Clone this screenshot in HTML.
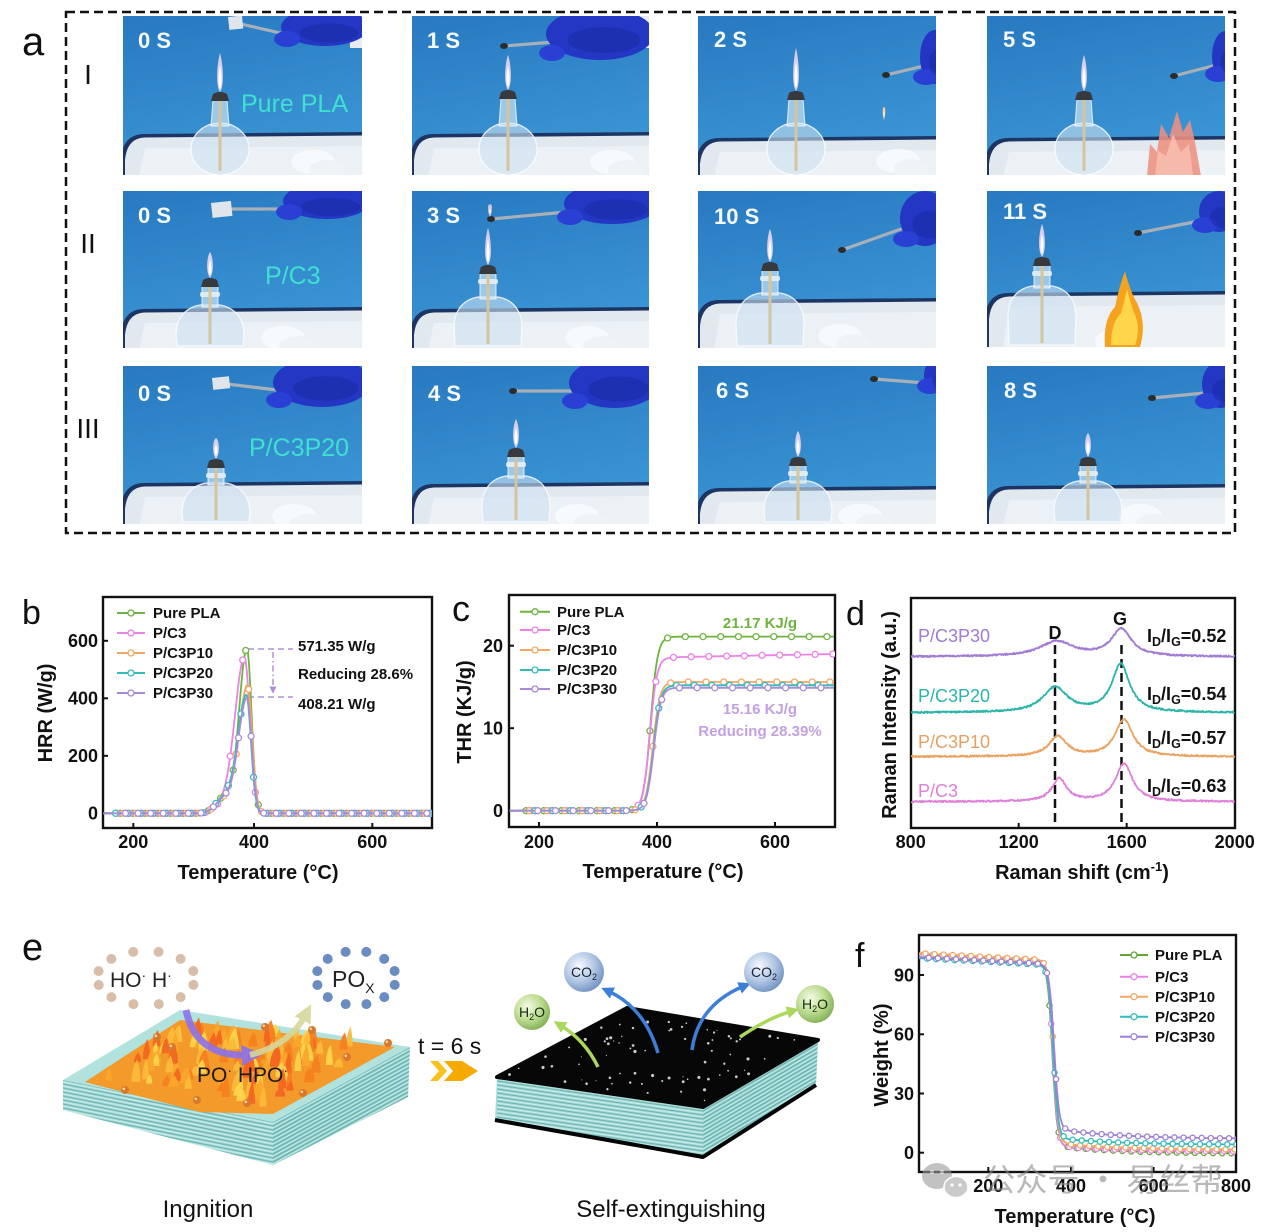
<!DOCTYPE html>
<html><head><meta charset="utf-8"><title>figure</title>
<style>
html,body{margin:0;padding:0;background:#fff;width:1267px;height:1232px;overflow:hidden}
svg{display:block}
text{font-family:"Liberation Sans",Arial,sans-serif}
.t{font-weight:bold;font-size:18px;fill:#111}
.lab{font-weight:bold;font-size:20px;fill:#111}
.lg{font-weight:bold;font-size:15px;fill:#111}
.pl{fill:#111}
.ts{font-weight:bold;font-size:22px;fill:#f5f9fc}
.sn{font-size:25px;fill:#3fe0d0}
.rl{font-size:28px;fill:#111}
.ax{fill:none;stroke:#111;stroke-width:2.4}
.tk{stroke:#111;stroke-width:2}
</style></head><body>
<svg id="s" width="1267" height="1232" viewBox="0 0 1267 1232" xmlns="http://www.w3.org/2000/svg">
<defs id="defs">
 <linearGradient id="bg" x1="0" y1="0" x2="0.3" y2="1"><stop offset="0" stop-color="#2879c0"/><stop offset="1" stop-color="#3b96d5"/></linearGradient>
 <radialGradient id="co2g" cx="0.38" cy="0.35" r="0.7"><stop offset="0" stop-color="#f6f9ff"/><stop offset="0.55" stop-color="#b2c7e4"/><stop offset="1" stop-color="#6f90c0"/></radialGradient>
 <radialGradient id="h2og" cx="0.38" cy="0.35" r="0.7"><stop offset="0" stop-color="#f5fbe8"/><stop offset="0.55" stop-color="#bcdc90"/><stop offset="1" stop-color="#7fae52"/></radialGradient>
 <marker id="arB" viewBox="0 0 10 10" refX="4" refY="5" markerWidth="3.5" markerHeight="3.5" orient="auto"><path d="M0,0 L10,5 L0,10 z" fill="#3d7fd8"/></marker>
 <marker id="arG" viewBox="0 0 10 10" refX="4" refY="5" markerWidth="3.5" markerHeight="3.5" orient="auto"><path d="M0,0 L10,5 L0,10 z" fill="#a9d85a"/></marker>
 <marker id="arP" viewBox="0 0 10 10" refX="4" refY="5" markerWidth="3" markerHeight="3" orient="auto"><path d="M0,0 L10,5 L0,10 z" fill="#8b72ea"/></marker>
 <marker id="arY" viewBox="0 0 10 10" refX="4" refY="5" markerWidth="3" markerHeight="3" orient="auto"><path d="M0,0 L10,5 L0,10 z" fill="#d6d69a"/></marker>
 <marker id="arL" viewBox="0 0 10 10" refX="5" refY="5" markerWidth="5" markerHeight="5" orient="auto"><path d="M0,0 L10,5 L0,10 z" fill="#b48fd3"/></marker>
 <clipPath id="cb"><rect x="103" y="597" width="329" height="231"/></clipPath>
 <clipPath id="cc"><rect x="509" y="595" width="326" height="232"/></clipPath>
 <clipPath id="cd"><rect x="911" y="598" width="324" height="230"/></clipPath>
 <clipPath id="cf"><rect x="919" y="935" width="317" height="237"/></clipPath>
 <clipPath id="fL1"><polygon points="63,1080 273,1122 273,1165 63,1110"/></clipPath>
 <clipPath id="fL2"><polygon points="273,1122 410,1047 408,1097 273,1165"/></clipPath>
 <clipPath id="fR1"><polygon points="497,1077 703,1107 703,1157 495,1120"/></clipPath>
 <clipPath id="fR2"><polygon points="703,1107 818,1040 816,1085 703,1157"/></clipPath>
</defs>
<rect width="1267" height="1232" fill="#fff"/>

<!-- ===== Panel a ===== -->
<text class="pl" x="22" y="55" font-size="40">a</text>
<rect x="66" y="12" width="1169" height="521" fill="none" stroke="#111" stroke-width="2.5" stroke-dasharray="9 5"/>
<text class="rl" x="88" y="84" text-anchor="middle">I</text>
<text class="rl" x="88" y="253" text-anchor="middle">II</text>
<text class="rl" x="88" y="438" text-anchor="middle">III</text>
<g id="photos"></g>
<text class="ts" x="138" y="48">0 S</text>
<text class="ts" x="427" y="48">1 S</text>
<text class="ts" x="714" y="47">2 S</text>
<text class="ts" x="1003" y="47">5 S</text>
<text class="ts" x="138" y="223">0 S</text>
<text class="ts" x="427" y="223">3 S</text>
<text class="ts" x="714" y="224">10 S</text>
<text class="ts" x="1003" y="219">11 S</text>
<text class="ts" x="138" y="401">0 S</text>
<text class="ts" x="428" y="401">4 S</text>
<text class="ts" x="716" y="398">6 S</text>
<text class="ts" x="1004" y="398">8 S</text>
<text class="sn" x="241" y="112">Pure PLA</text>
<text class="sn" x="265" y="284">P/C3</text>
<text class="sn" x="249" y="456">P/C3P20</text>

<!-- ===== Panel b ===== -->
<text class="pl" x="22" y="624" font-size="34">b</text>
<rect class="ax" x="103" y="597" width="329" height="231"/>
<g class="tk">
<line x1="133.3" y1="828" x2="133.3" y2="823"/><line x1="254" y1="828" x2="254" y2="823"/><line x1="372.3" y1="828" x2="372.3" y2="823"/>
<line x1="103" y1="813.3" x2="108" y2="813.3"/><line x1="103" y1="755.8" x2="108" y2="755.8"/><line x1="103" y1="698.3" x2="108" y2="698.3"/><line x1="103" y1="640.8" x2="108" y2="640.8"/>
</g>
<text class="t" x="98" y="819.5" text-anchor="end">0</text>
<text class="t" x="98" y="762" text-anchor="end">200</text>
<text class="t" x="98" y="704.5" text-anchor="end">400</text>
<text class="t" x="98" y="647" text-anchor="end">600</text>
<text class="t" x="133.3" y="848" text-anchor="middle">200</text>
<text class="t" x="254" y="848" text-anchor="middle">400</text>
<text class="t" x="372.3" y="848" text-anchor="middle">600</text>
<text class="lab" x="258" y="879" text-anchor="middle">Temperature (°C)</text>
<text class="lab" transform="translate(52,713) rotate(-90)" text-anchor="middle">HRR (W/g)</text>
<text class="lg" x="153" y="618">Pure PLA</text>
<text class="lg" x="153" y="638">P/C3</text>
<text class="lg" x="153" y="658">P/C3P10</text>
<text class="lg" x="153" y="678">P/C3P20</text>
<text class="lg" x="153" y="698">P/C3P30</text>
<line x1="248" y1="649" x2="293" y2="649" stroke="#b48fd3" stroke-width="1.5" stroke-dasharray="6 4"/>
<line x1="248" y1="697" x2="293" y2="697" stroke="#b48fd3" stroke-width="1.5" stroke-dasharray="6 4"/>
<line x1="273" y1="652" x2="273" y2="690" stroke="#b48fd3" stroke-width="1.5" stroke-dasharray="6 3 1.5 3" marker-end="url(#arL)"/>
<text class="lg" x="298" y="651">571.35 W/g</text>
<text class="lg" x="298" y="679">Reducing 28.6%</text>
<text class="lg" x="298" y="709">408.21 W/g</text>

<!-- ===== Panel c ===== -->
<text class="pl" x="452" y="621" font-size="36">c</text>
<rect class="ax" x="509" y="595" width="326" height="232"/>
<g class="tk">
<line x1="539" y1="827" x2="539" y2="822"/><line x1="657" y1="827" x2="657" y2="822"/><line x1="775" y1="827" x2="775" y2="822"/>
<line x1="509" y1="810.7" x2="514" y2="810.7"/><line x1="509" y1="728.2" x2="514" y2="728.2"/><line x1="509" y1="645.7" x2="514" y2="645.7"/>
</g>
<text class="t" x="503" y="817" text-anchor="end">0</text>
<text class="t" x="503" y="734.5" text-anchor="end">10</text>
<text class="t" x="503" y="652" text-anchor="end">20</text>
<text class="t" x="539" y="848" text-anchor="middle">200</text>
<text class="t" x="657" y="848" text-anchor="middle">400</text>
<text class="t" x="775" y="848" text-anchor="middle">600</text>
<text class="lab" x="663" y="878" text-anchor="middle">Temperature (°C)</text>
<text class="lab" transform="translate(471,712) rotate(-90)" text-anchor="middle">THR (KJ/g)</text>
<text class="lg" x="557" y="617">Pure PLA</text>
<text class="lg" x="557" y="635">P/C3</text>
<text class="lg" x="557" y="655">P/C3P10</text>
<text class="lg" x="557" y="675">P/C3P20</text>
<text class="lg" x="557" y="694">P/C3P30</text>
<text class="lg" x="760" y="628" text-anchor="middle" style="fill:#6db33f">21.17 KJ/g</text>
<text class="lg" x="760" y="714" text-anchor="middle" style="fill:#c4a0e0">15.16 KJ/g</text>
<text class="lg" x="760" y="736" text-anchor="middle" style="fill:#c4a0e0">Reducing 28.39%</text>

<!-- ===== Panel d ===== -->
<text class="pl" x="846" y="625" font-size="34">d</text>
<rect class="ax" x="911" y="598" width="324" height="230"/>
<g class="tk">
<line x1="1018.7" y1="828" x2="1018.7" y2="823"/><line x1="1126.7" y1="828" x2="1126.7" y2="823"/>
</g>
<text class="t" x="910.7" y="848" text-anchor="middle">800</text>
<text class="t" x="1018.7" y="848" text-anchor="middle">1200</text>
<text class="t" x="1126.7" y="848" text-anchor="middle">1600</text>
<text class="t" x="1234.7" y="848" text-anchor="middle">2000</text>
<text class="lab" x="1082" y="879" text-anchor="middle">Raman shift (cm<tspan font-size="13" dy="-8">-1</tspan><tspan dy="8">)</tspan></text>
<text class="lab" transform="translate(896,715) rotate(-90)" text-anchor="middle">Raman Intensity (a.u.)</text>
<line x1="1055" y1="645" x2="1055" y2="827" stroke="#111" stroke-width="2.5" stroke-dasharray="9 5"/>
<line x1="1121.5" y1="645" x2="1121.5" y2="827" stroke="#111" stroke-width="2.5" stroke-dasharray="9 5"/>
<text class="t" x="1055" y="639" text-anchor="middle">D</text>
<text class="t" x="1120" y="625" text-anchor="middle">G</text>
<text x="918" y="642" font-size="18" fill="#a07ad4">P/C3P30</text>
<text x="918" y="702" font-size="18" fill="#2bb5aa">P/C3P20</text>
<text x="918" y="748" font-size="18" fill="#e8a060">P/C3P10</text>
<text x="918" y="797" font-size="18" fill="#df80d8">P/C3</text>
<text class="t" x="1147" y="642">I<tspan font-size="12.5" dy="4">D</tspan><tspan dy="-4">/I</tspan><tspan font-size="12.5" dy="4">G</tspan><tspan dy="-4">=0.52</tspan></text>
<text class="t" x="1147" y="700">I<tspan font-size="12.5" dy="4">D</tspan><tspan dy="-4">/I</tspan><tspan font-size="12.5" dy="4">G</tspan><tspan dy="-4">=0.54</tspan></text>
<text class="t" x="1147" y="744">I<tspan font-size="12.5" dy="4">D</tspan><tspan dy="-4">/I</tspan><tspan font-size="12.5" dy="4">G</tspan><tspan dy="-4">=0.57</tspan></text>
<text class="t" x="1147" y="792">I<tspan font-size="12.5" dy="4">D</tspan><tspan dy="-4">/I</tspan><tspan font-size="12.5" dy="4">G</tspan><tspan dy="-4">=0.63</tspan></text>

<!-- ===== Panel e ===== -->
<text class="pl" x="22" y="960" font-size="38">e</text>
<g id="pe">
 <polygon points="63,1080 273,1122 273,1165 63,1110" fill="#a8ddd9"/>
 <polygon points="273,1122 410,1047 408,1097 273,1165" fill="#96d3cf"/>
 <g id="stL1" clip-path="url(#fL1)"></g>
 <g id="stL2" clip-path="url(#fL2)"></g>
 <polygon points="63,1080 180,1010 410,1047 273,1122" fill="#b2e2de"/>
 <polygon points="85,1082 180,1020 395,1047 273,1114 200,1112" fill="#f39a2a"/>
 <g id="flL"></g>
 <polygon points="497,1077 703,1107 703,1157 495,1120" fill="#a8ddd9"/>
 <polygon points="703,1107 818,1040 816,1085 703,1157" fill="#96d3cf"/>
 <g id="stR1" clip-path="url(#fR1)"></g>
 <g id="stR2" clip-path="url(#fR2)"></g>
 <polyline points="495,1120 703,1157 816,1085" fill="none" stroke="#050505" stroke-width="4" stroke-linejoin="round"/>
 <polygon points="497,1077 627,1008 818,1040 703,1107" fill="#070707" stroke="#070707" stroke-width="4" stroke-linejoin="round"/>
 <g id="spR"></g>
</g>
<!-- bubbles -->
<g id="dots"></g>
<text x="110" y="987" font-size="21" fill="#222">HO<tspan font-size="14" dy="-7">·</tspan><tspan dy="7"> H</tspan><tspan font-size="14" dy="-7">·</tspan></text>
<text x="332" y="987" font-size="23" fill="#222">PO<tspan font-size="14" dy="6">X</tspan></text>
<!-- left arrows -->
<path d="M186,1010 Q196,1058 250,1055" fill="none" stroke="#8b72ea" stroke-width="7" marker-end="url(#arP)" opacity="0.9"/>
<path d="M250,1055 Q290,1045 306,1014" fill="none" stroke="#d6d69a" stroke-width="6" marker-end="url(#arY)" opacity="0.9"/>
<text x="197" y="1082" font-size="21" fill="#1a1a1a">PO<tspan font-size="14" dy="-7">·</tspan><tspan dy="7"> HPO</tspan><tspan font-size="14" dy="-7">·</tspan></text>
<!-- middle -->
<text x="418" y="1054" font-size="23" fill="#111">t = 6 s</text>
<polygon points="430,1061 438,1061 447,1071 438,1081 430,1081 439,1071" fill="#f8c21a"/>
<polygon points="444,1061 462,1061 478,1071 462,1081 444,1081 453,1071" fill="#f5aa00"/>
<!-- right arrows -->
<path d="M658,1053 Q645,1008 608,991" fill="none" stroke="#3d7fd8" stroke-width="3.5" marker-end="url(#arB)"/>
<path d="M692,1050 Q698,1005 744,986" fill="none" stroke="#3d7fd8" stroke-width="3.5" marker-end="url(#arB)"/>
<path d="M598,1067 Q585,1040 560,1025" fill="none" stroke="#a9d85a" stroke-width="3.5" marker-end="url(#arG)"/>
<path d="M740,1037 Q768,1018 792,1011" fill="none" stroke="#a9d85a" stroke-width="3.5" marker-end="url(#arG)"/>
<circle cx="584" cy="972" r="20" fill="url(#co2g)"/>
<circle cx="764" cy="972" r="20" fill="url(#co2g)"/>
<circle cx="532" cy="1012" r="18" fill="url(#h2og)"/>
<circle cx="815" cy="1004" r="19" fill="url(#h2og)"/>
<text x="584" y="977" font-size="14" fill="#1a2233" text-anchor="middle">CO<tspan font-size="9" dy="3">2</tspan></text>
<text x="764" y="977" font-size="14" fill="#1a2233" text-anchor="middle">CO<tspan font-size="9" dy="3">2</tspan></text>
<text x="532" y="1017" font-size="14" fill="#1a2a10" text-anchor="middle">H<tspan font-size="9" dy="3">2</tspan><tspan dy="-3">O</tspan></text>
<text x="815" y="1009" font-size="14" fill="#1a2a10" text-anchor="middle">H<tspan font-size="9" dy="3">2</tspan><tspan dy="-3">O</tspan></text>
<text x="208" y="1217" font-size="24" fill="#111" text-anchor="middle">Ingnition</text>
<text x="671" y="1217" font-size="24" fill="#111" text-anchor="middle">Self-extinguishing</text>

<!-- ===== Panel f ===== -->
<text class="pl" x="855" y="967" font-size="34">f</text>
<rect class="ax" x="919" y="935" width="317" height="237"/>
<g class="tk">
<line x1="988.3" y1="1172" x2="988.3" y2="1167"/><line x1="1071" y1="1172" x2="1071" y2="1167"/><line x1="1153.6" y1="1172" x2="1153.6" y2="1167"/>
<line x1="919" y1="1152.7" x2="924" y2="1152.7"/><line x1="919" y1="1093.5" x2="924" y2="1093.5"/><line x1="919" y1="1034.3" x2="924" y2="1034.3"/><line x1="919" y1="975" x2="924" y2="975"/>
</g>
<text class="t" x="914" y="1159" text-anchor="end">0</text>
<text class="t" x="914" y="1100" text-anchor="end">30</text>
<text class="t" x="914" y="1040.5" text-anchor="end">60</text>
<text class="t" x="914" y="981.5" text-anchor="end">90</text>
<text class="t" x="988.3" y="1192" text-anchor="middle">200</text>
<text class="t" x="1071" y="1192" text-anchor="middle">400</text>
<text class="t" x="1153.6" y="1192" text-anchor="middle">600</text>
<text class="t" x="1236" y="1192" text-anchor="middle">800</text>
<text class="lab" x="1075" y="1223" text-anchor="middle">Temperature (°C)</text>
<text class="lab" transform="translate(888,1055) rotate(-90)" text-anchor="middle" font-size="21">Weight (%)</text>
<text class="lg" x="1155" y="960">Pure PLA</text>
<text class="lg" x="1155" y="982">P/C3</text>
<text class="lg" x="1155" y="1002">P/C3P10</text>
<text class="lg" x="1155" y="1022">P/C3P20</text>
<text class="lg" x="1155" y="1042">P/C3P30</text>

<g id="plots"></g>

<!-- watermark -->
<g opacity="0.6">
 <ellipse cx="937" cy="1176" rx="15" ry="13" fill="#9a9a9a"/>
 <ellipse cx="956" cy="1187" rx="12" ry="10.5" fill="#a8a8a8" stroke="#fff" stroke-width="1.5"/>
 <circle cx="932" cy="1172" r="2" fill="#fff"/><circle cx="942" cy="1172" r="2" fill="#fff"/>
 <circle cx="952" cy="1185" r="1.6" fill="#fff"/><circle cx="960" cy="1185" r="1.6" fill="#fff"/>
 <text x="983" y="1191" font-size="32" fill="#8a8a8a" textLength="240" lengthAdjust="spacingAndGlyphs" style='font-family:"Noto Sans CJK SC","WenQuanYi Zen Hei",sans-serif'>公众号 · 易丝帮</text>
</g>
</svg>

<script>
(function(){
const NS='http://www.w3.org/2000/svg';
function el(tag,a,p){const e=document.createElementNS(NS,tag);for(const k in a)e.setAttribute(k,a[k]);p.appendChild(e);return e;}
const defs=document.getElementById('defs');
const photos=document.getElementById('photos');
const plots=document.getElementById('plots');
let seed=12345;function rnd(){seed=(seed*16807)%2147483647;return seed/2147483647;}

/* ---------- photos ---------- */
function flame(g,x,top,bot,wd,c1,c2){
  const m=top+(bot-top)*0.55;
  el('path',{d:`M${x},${top} C${x+wd*0.35},${m-10} ${x+wd/2},${bot-6} ${x},${bot} C${x-wd/2},${bot-6} ${x-wd*0.35},${m-10} ${x},${top} Z`,fill:c1},g);
  const t2=top+(bot-top)*0.3;
  el('path',{d:`M${x},${t2} C${x+wd*0.2},${m} ${x+wd*0.25},${bot-6} ${x},${bot-3} C${x-wd*0.25},${bot-6} ${x-wd*0.2},${m} ${x},${t2} Z`,fill:c2},g);
}
let pid=0;
function photo(px,py,w,h,o){
  pid++;
  const cp=el('clipPath',{id:'pc'+pid},defs);
  el('rect',{x:0,y:0,width:w,height:h},cp);
  const g=el('g',{transform:`translate(${px},${py})`,'clip-path':`url(#pc${pid})`},photos);
  el('rect',{x:0,y:0,width:w,height:h,fill:'url(#bg)'},g);
  const r=o.rim;
  el('path',{d:`M-2,${r+24} Q0,${r+1} 20,${r} L${w+2},${r-2} L${w+2},${h+2} L-2,${h+2} Z`,fill:'#1d3563'},g);
  el('path',{d:`M2,${r+26} Q4,${r+4} 22,${r+3.5} L${w+2},${r+1.5} L${w+2},${h+2} L2,${h+2} Z`,fill:'#e1e9ef'},g);
  el('path',{d:`M16,${h+2} L22,${r+14} L${w+2},${r+12} L${w+2},${h+2} Z`,fill:'#ecf1f5'},g);
  if(o.cot){const cx=o.cot[0],cy=o.cot[1];
    el('ellipse',{cx:cx,cy:cy,rx:22,ry:12,fill:'#f7fafc'},g);
    el('ellipse',{cx:cx+14,cy:cy+8,rx:18,ry:10,fill:'#eef3f8'},g);}
  const L=o.L,c=o.cap;
  if(o.t==='r'){
    el('ellipse',{cx:L,cy:133,rx:29,ry:26,fill:'rgba(205,225,240,0.6)',stroke:'rgba(250,252,255,0.85)','stroke-width':1.3},g);
    el('path',{d:`M${L-7},${c+8} L${L-9},110 L${L+9},110 L${L+7},${c+8} Z`,fill:'rgba(215,232,244,0.65)',stroke:'rgba(250,252,255,0.8)','stroke-width':1},g);
  } else {
    const s=o.sh;
    el('path',{d:`M${L-10},${s} C${L-27},${s+3} ${L-34},${s+16} ${L-34},${s+30} L${L-33},${h-2} L${L+33},${h-2} L${L+34},${s+30} C${L+34},${s+16} ${L+27},${s+3} ${L+10},${s} Z`,fill:'rgba(205,225,240,0.6)',stroke:'rgba(250,252,255,0.85)','stroke-width':1.3},g);
    el('rect',{x:L-8,y:c+8,width:16,height:s-c-6,fill:'rgba(215,232,244,0.65)',stroke:'rgba(250,252,255,0.8)','stroke-width':1},g);
    el('rect',{x:L-10,y:c+14,width:20,height:5,rx:2,fill:'rgba(235,240,240,0.85)'},g);
  }
  el('line',{x1:L,y1:c+8,x2:L,y2:h-4,stroke:'#d4c59e','stroke-width':3},g);
  el('path',{d:`M${L-9},${c+9} L${L-7},${c+2} Q${L},${c-2} ${L+7},${c+2} L${L+9},${c+9} Z`,fill:'#37393d'},g);
  flame(g,L,o.ft,c,9,'rgba(252,222,238,0.82)','#fffdf5');
  if(o.fire==='p'){
    el('path',{d:'M160,160 L163,128 L170,136 L174,108 L182,122 L190,95 L196,116 L203,104 L208,126 L214,160 Z',fill:'#ee8f80',opacity:0.88},g);
    el('path',{d:'M168,160 L171,135 L179,140 L186,118 L194,136 L202,128 L206,160 Z',fill:'#f6c2b2',opacity:0.8},g);
  }
  if(o.fire==='o'){
    el('path',{d:'M118,156 Q116,128 128,116 Q132,96 138,80 Q143,100 150,112 Q160,132 153,156 Z',fill:'#f5a21e'},g);
    el('path',{d:'M124,154 Q124,132 134,122 Q138,108 140,98 Q144,114 148,124 Q154,138 148,154 Z',fill:'#ffd64a'},g);
  }
  if(o.drop){flame(g,o.drop[0],o.drop[1],o.drop[2],4,'#ffcf95','#fff6e0');}
  if(o.sleeve){el('rect',{x:w-12,y:-2,width:14,height:34,fill:'#e6ecf2'},g);}
  if(o.gl){const x1=o.gl[0],x2=o.gl[1],y1=o.gl[2],y2=o.gl[3];const tx=x1+8,ty=(y1+y2)/2+6;
    el('line',{x1:o.tip[0],y1:o.tip[1],x2:tx+6,y2:ty,stroke:'#a7afb8','stroke-width':3.2,'stroke-linecap':'round'},g);
    el('ellipse',{cx:(x1+x2)/2+6,cy:(y1+y2)/2-2,rx:(x2-x1)/2,ry:(y2-y1)/2,fill:'#2336c4'},g);
    el('ellipse',{cx:x1+12,cy:y2-9,rx:13,ry:8,fill:'#2a40d4'},g);
    el('ellipse',{cx:(x1+x2)/2+10,cy:(y1+y2)/2+4,rx:(x2-x1)/3,ry:(y2-y1)/4,fill:'#1a2aa0',opacity:0.5},g);
  }
  if(o.sample){const s=o.sample;el('rect',{x:s[0],y:s[1],width:s[2],height:s[3],fill:'#dfe5ea',transform:`rotate(-6 ${s[0]} ${s[1]})`},g);}
  if(o.burnt){el('ellipse',{cx:o.tip[0],cy:o.tip[1],rx:4,ry:3,fill:'#2b2b2b'},g);}
  if(o.tf){flame(g,o.tip[0]-1,14,o.tip[1]-2,6,'rgba(250,215,235,0.8)','#fff8f0');}
}
const P=[
 [123,16,239,159,{L:97,t:'r',cap:76,ft:37,rim:118,gl:[152,240,-6,32],tip:[118,8],sample:[105,1,14,13],sleeve:1,cot:[190,146]}],
 [412,16,237,159,{L:96,t:'r',cap:74,ft:39,rim:118,gl:[128,236,-6,46],tip:[92,30],burnt:1,sleeve:1,cot:[200,146]}],
 [698,16,238,159,{L:98,t:'r',cap:75,ft:32,rim:122,gl:[216,246,16,70],tip:[188,59],burnt:1,drop:[186,92,104],cot:[200,145]}],
 [987,16,238,159,{L:97,t:'r',cap:75,ft:39,rim:122,gl:[219,246,17,67],tip:[187,60],burnt:1,cot:[188,150],fire:'p'}],
 [123,191,239,157,{L:87,t:'b',cap:87,ft:61,sh:114,rim:118,gl:[154,242,-6,30],tip:[106,18],sample:[88,12,20,15],cot:[160,147]}],
 [412,191,237,157,{L:76,t:'b',cap:74,ft:37,sh:106,rim:118,gl:[146,242,-6,35],tip:[79,28],burnt:1,tf:1,cot:[175,147]}],
 [698,191,238,157,{L:72,t:'b',cap:71,ft:38,sh:102,rim:109,gl:[196,246,2,57],tip:[144,59],burnt:1,cot:[142,145]}],
 [987,191,238,156,{L:55,t:'b',cap:66,ft:33,sh:95,rim:102,gl:[206,246,2,43],tip:[151,42],burnt:1,cot:[130,150],fire:'o'}],
 [123,366,239,158,{L:93,t:'b',cap:93,ft:72,sh:117,rim:117,gl:[144,242,-6,43],tip:[104,18],sample:[89,12,17,12],cot:[171,150]}],
 [412,366,237,158,{L:104,t:'b',cap:82,ft:53,sh:110,rim:118,gl:[151,242,-6,44],tip:[101,25],burnt:1,cot:[165,150]}],
 [698,366,238,158,{L:100,t:'b',cap:91,ft:65,sh:115,rim:122,gl:[220,246,-6,29],tip:[176,13],burnt:1,cot:[162,150]}],
 [987,366,238,158,{L:101,t:'b',cap:91,ft:67,sh:115,rim:120,gl:[209,246,-3,44],tip:[165,32],burnt:1,cot:[153,150]}]
];
P.forEach(p=>photo(p[0],p[1],p[2],p[3],p[4]));

/* ---------- charts ---------- */
function toD(pts){let s='';pts.forEach((q,i)=>{s+=(i?'L':'M')+q[0].toFixed(1)+' '+q[1].toFixed(1);});return s;}
function draw(g,fx,fy,f,T0,T1,st,c,m0,ms,r,lw){
  const pts=[];for(let T=T0;T<=T1+1e-6;T+=st)pts.push([fx(T),fy(f(T))]);
  el('path',{d:toD(pts),fill:'none',stroke:c,'stroke-width':lw,'stroke-linejoin':'round'},g);
  if(ms)for(let T=m0;T<=T1+1e-6;T+=ms)el('circle',{cx:fx(T).toFixed(1),cy:fy(f(T)).toFixed(1),r:r,fill:'#fff',stroke:c,'stroke-width':1.3},g);
}
function legend(x1,x2,ys,cols){const g=el('g',{},plots);ys.forEach((y,i)=>{
  el('line',{x1:x1,y1:y,x2:x2,y2:y,stroke:cols[i],'stroke-width':2},g);
  el('circle',{cx:(x1+x2)/2,cy:y,r:3,fill:'#fff',stroke:cols[i],'stroke-width':1.3},g);});}
const COL=['#6db33f','#ec82e6','#f2a862','#33bcbc','#a98ad8'];

// b
const gb=el('g',{'clip-path':'url(#cb)'},plots);
const bX=T=>133.3+(T-200)*0.598, bY=v=>813.3-v*0.2875;
const B=[[571,390,13,7.8,55,8],[540,386,16,9,30,3],[445,391,14.5,7.8,50,13],[410,389,14.5,7.8,55,0],[400,390,14.5,7.8,50,17]];
B.forEach((s,i)=>{const A=s[0],mu=s[1],sl=s[2],sr=s[3],sh=s[4],off=s[5];
  const f=T=>{const sg=T<mu?sl:sr;return A*Math.exp(-((T-mu)*(T-mu))/(2*sg*sg))+sh*Math.exp(-((T-352)*(T-352))/(2*14*14));};
  draw(gb,bX,bY,f,150,700,1,COL[i],170+off,21,3,1.8);});
legend(117,145,[613,633,653,673,693],COL);

// c
const gc=el('g',{'clip-path':'url(#cc)'},plots);
const cX=T=>539+(T-200)*0.59, cY=v=>810.7-v*8.25;
const C=[[21.1,0,389,6,0],[18.6,0.0014,388,6,10],[15.6,0,393,6,5],[15.2,0,394,6,15],[14.9,0,394.5,6,20]];
C.forEach((s,i)=>{const F=s[0],k=s[1],T0=s[2],w=s[3],off=s[4];
  const f=T=>(F+k*Math.max(0,T-420))/(1+Math.exp(-(T-T0)/w));
  draw(gc,cX,cY,f,150,700,1,COL[i],178+off,30,3,1.8);});
legend(520,550,[611.7,630,650,670,689],COL);

// d
const gd=el('g',{'clip-path':'url(#cd)'},plots);
const dX=w=>910.7+(w-800)*0.27;
function lor(w,c,hw){const z=(w-c)/hw;return 1/(1+z*z);}
const D=[['#a07ad4',656.7,15,1340,75,27,1580,45],['#2bb5aa',712.7,25,1335,55,48,1578,40],['#eaa25e',756.7,20,1345,40,37,1590,40],['#df80d8',801.7,23,1350,32,38,1590,38]];
D.forEach(s=>{const pts=[];for(let w=800;w<=2000;w+=2){
  const y=s[1]-s[2]*lor(w,s[3],s[4])-s[5]*lor(w,s[6],s[7])+(rnd()-0.5)*1.6;pts.push([dX(w),y]);}
  el('path',{d:toD(pts),fill:'none',stroke:s[0],'stroke-width':1.8,'stroke-linejoin':'round'},gd);});

// f
const gf=el('g',{'clip-path':'url(#cf)'},plots);
const fX=T=>988.3+(T-200)*0.4135, fY=v=>1152.7-v*1.974;
const FS=[['#5fa838',0,355,-0.5,3.5,0],['#ec82e6',0.5,356,0.5,2.5,4],['#f2a862',1,358,1.5,3,8],['#33bcbc',-1.5,357,4,3,12],['#9e7fd6',-1,359,7,4.5,16]];
FS.forEach(s=>{const o=s[1],T0=s[2],a=s[3],b=s[4];
  const f=T=>{const Pv=100+o-0.011*(T-35);const R=a+b*Math.exp(-(T-380)/150);return R+(Pv-R)/(1+Math.exp((T-T0)/6));};
  draw(gf,fX,fY,f,30,805,1,s[0],40+s[5],22,2.6,1.8);});
legend(1120,1148,[955,976.7,996.7,1016.7,1036.7],['#5fa838','#ec82e6','#f2a862','#33bcbc','#9e7fd6']);

/* ---------- panel e textures ---------- */
function stripes(id,x1,y1,x2,y2,n){const g=document.getElementById(id);
  for(let k=-4;k<n;k+=4){el('line',{x1:x1,y1:y1+k,x2:x2,y2:y2+k,stroke:'#5fa9a8','stroke-width':1.3,opacity:0.75},g);
    el('line',{x1:x1,y1:y1+k+2,x2:x2,y2:y2+k+2,stroke:'#dcf3f0','stroke-width':0.8,opacity:0.8},g);}}
stripes('stL1',63,1080,273,1122,50);
stripes('stL2',273,1122,410,1047,55);
stripes('stR1',497,1077,703,1107,55);
stripes('stR2',703,1107,818,1040,55);
// flames on left block
const fl=document.getElementById('flL');
const Lp=[90,1082],Bp=[180,1022],Rp=[392,1047],Fp=[268,1112];
const fls=[];
for(let i=0;i<120;i++){const u=0.05+rnd()*0.9,v=0.05+rnd()*0.9;
  const x=(1-u)*(1-v)*Lp[0]+u*(1-v)*Bp[0]+u*v*Rp[0]+(1-u)*v*Fp[0];
  const y=(1-u)*(1-v)*Lp[1]+u*(1-v)*Bp[1]+u*v*Rp[1]+(1-u)*v*Fp[1];
  fls.push([x,y,9+rnd()*13,6+rnd()*5]);}
fls.sort((a,b)=>a[1]-b[1]);
const fc=['#f57f1f','#f9a72b','#ffd34a','#f26522','#fbb93a'];
fls.forEach((q,i)=>{const x=q[0],y=q[1],h=q[2],wd=q[3];
  el('path',{d:`M${(x-wd/2).toFixed(1)},${y.toFixed(1)} Q${(x-wd/2).toFixed(1)},${(y-h*0.6).toFixed(1)} ${(x+wd*0.15).toFixed(1)},${(y-h).toFixed(1)} Q${(x+wd/2).toFixed(1)},${(y-h*0.5).toFixed(1)} ${(x+wd/2).toFixed(1)},${y.toFixed(1)} Z`,fill:fc[i%5],opacity:0.95},fl);});
[[157,1037],[265,1027],[312,1030],[388,1043],[172,1047],[125,1090],[197,1100],[303,1093],[247,1103],[347,1057]].forEach(p=>{
  el('circle',{cx:p[0],cy:p[1],r:4,fill:'#d9782a'},fl);el('circle',{cx:p[0]-1.2,cy:p[1]-1.2,r:1.3,fill:'#ffd9a8'},fl);});
// speckles on right block
const sp=document.getElementById('spR');
const L2=[502,1077],B2=[627,1012],R2=[814,1041],F2=[700,1104];
for(let i=0;i<80;i++){const u=rnd(),v=rnd();
  const x=(1-u)*(1-v)*L2[0]+u*(1-v)*B2[0]+u*v*R2[0]+(1-u)*v*F2[0];
  const y=(1-u)*(1-v)*L2[1]+u*(1-v)*B2[1]+u*v*R2[1]+(1-u)*v*F2[1];
  el('circle',{cx:x.toFixed(1),cy:y.toFixed(1),r:(0.5+rnd()*1.1).toFixed(2),fill:'#e8eef0',opacity:0.85},sp);}
// dot rings
const dg=document.getElementById('dots');
for(let i=0;i<12;i++){const a=i/12*2*Math.PI+0.26;
  el('circle',{cx:(146+49*Math.cos(a)).toFixed(1),cy:(978+27*Math.sin(a)).toFixed(1),r:5,fill:'#d8bea8'},dg);
  el('circle',{cx:(356+40*Math.cos(a)).toFixed(1),cy:(978+27*Math.sin(a)).toFixed(1),r:5,fill:'#6a8cc0'},dg);}
})();
</script>
</body></html>
